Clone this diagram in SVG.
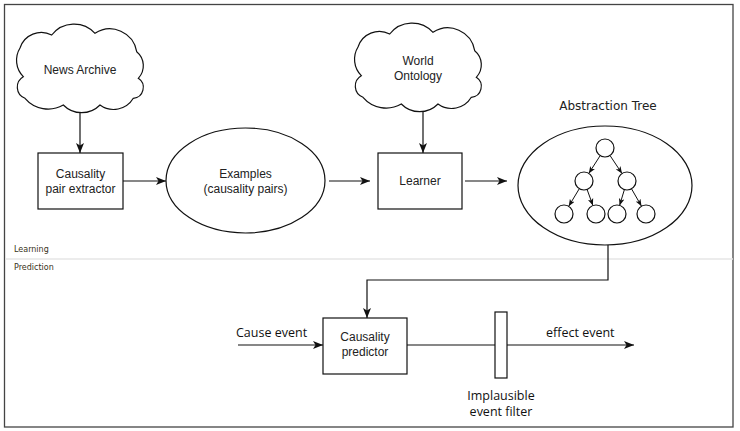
<svg xmlns="http://www.w3.org/2000/svg" width="740" height="431" viewBox="0 0 740 431">
<style>
.s{fill:none;stroke:#111;stroke-width:1.2}
.n{fill:#fff;stroke:#111;stroke-width:1.2}
.t{font-family:"Liberation Sans",Arial,sans-serif;font-size:12px;fill:#222;text-anchor:middle}
.d{font-family:"DejaVu Sans",sans-serif;font-size:12px;fill:#222;text-anchor:middle}
.o{font-family:"Open Sans",sans-serif;font-size:12.5px;fill:#111}
.sm{font-family:"DejaVu Sans",sans-serif;font-size:8px;fill:#3a3320}
</style>
<defs>
<marker id="a" viewBox="0 0 10 8" refX="10" refY="4" markerWidth="10" markerHeight="8" markerUnits="userSpaceOnUse" orient="auto">
<path d="M0,0 L10,4 L0,8 L2.5,4 z" fill="#111"/>
</marker>
<marker id="b" viewBox="0 0 10 8" refX="10" refY="4" markerWidth="7" markerHeight="6" markerUnits="userSpaceOnUse" orient="auto">
<path d="M0,0 L10,4 L0,8 L2.5,4 z" fill="#111"/>
</marker>
<path id="cloud" d="M20,48 A22.4,22.4 0 0 1 51.7,35 A28.4,28.4 0 0 1 95,33.3 A27.2,27.2 0 0 1 136.7,51.7 A18.2,18.2 0 0 1 138.3,78.3 A10.9,10.9 0 0 1 133.3,98.3 A23,23 0 0 1 100,105 A25.7,25.7 0 0 1 63.3,105 A30.5,30.5 0 0 1 25,98.3 A12,12 0 0 1 23.3,76.7 A23.4,23.4 0 0 1 20,48 Z"/>
</defs>
<rect width="740" height="431" fill="#fff"/>
<rect x="4.5" y="4.5" width="728.5" height="422.5" fill="none" stroke="#444" stroke-width="1.3"/>
<line x1="5" y1="259" x2="733" y2="259" stroke="#e6e6e6" stroke-width="1.5"/>
<text class="sm" x="14" y="252">Learning</text>
<text class="sm" x="14" y="270">Prediction</text>

<g id="connectors">
<line class="s" x1="80" y1="100" x2="80" y2="153" marker-end="url(#a)"/>
<line class="s" x1="123" y1="181" x2="166" y2="181" marker-end="url(#a)"/>
<line class="s" x1="329" y1="181" x2="370" y2="181" marker-end="url(#a)"/>
<line class="s" x1="423" y1="100" x2="423" y2="153" marker-end="url(#a)"/>
<line class="s" x1="465" y1="181" x2="507" y2="181" marker-end="url(#a)"/>
<polyline class="s" points="608,245 608,280 367,280 367,318" marker-end="url(#a)"/>
<line class="s" x1="238" y1="345" x2="323" y2="345" marker-end="url(#a)"/>
<line class="s" x1="407" y1="345" x2="634" y2="345" marker-end="url(#a)"/>
</g>

<g id="news-archive">
<use href="#cloud" class="n"/>
<text class="t" x="80" y="74">News Archive</text>
</g>

<g id="pair-extractor">
<rect class="n" x="38" y="153" width="85" height="56"/>
<text class="t" x="80.5" y="178">Causality</text>
<text class="t" x="80.5" y="193">pair extractor</text>
</g>

<g id="examples">
<ellipse class="n" cx="245.5" cy="180.5" rx="79.5" ry="52.5"/>
<text class="t" x="245.5" y="178">Examples</text>
<text class="t" x="245.5" y="193">(causality pairs)</text>
</g>

<g id="world-ontology">
<use href="#cloud" class="n" transform="translate(338,-1)"/>
<text class="t" x="418" y="65">World</text>
<text class="t" x="418" y="80">Ontology</text>
</g>

<g id="learner">
<rect class="n" x="378" y="153" width="84" height="56"/>
<text class="t" x="420" y="185">Learner</text>
</g>

<g id="abstraction-tree">
<text class="d" x="608" y="110">Abstraction Tree</text>
<ellipse class="n" cx="605" cy="185.5" rx="87" ry="59.5"/>
<g class="n">
<circle cx="605" cy="148" r="9"/>
<circle cx="584" cy="181" r="9"/>
<circle cx="627" cy="181" r="9"/>
<circle cx="564" cy="214" r="9"/>
<circle cx="596" cy="214" r="9"/>
<circle cx="617" cy="214" r="9"/>
<circle cx="646" cy="214" r="9"/>
</g>
<g class="s" style="stroke-width:1">
<line x1="600.2" y1="155.6" x2="588.8" y2="173.4" marker-end="url(#b)"/>
<line x1="610" y1="155.5" x2="622" y2="173.5" marker-end="url(#b)"/>
<line x1="579.3" y1="188.7" x2="568.7" y2="206.3" marker-end="url(#b)"/>
<line x1="587.1" y1="189.5" x2="592.9" y2="205.5" marker-end="url(#b)"/>
<line x1="624.4" y1="189.6" x2="619.6" y2="205.4" marker-end="url(#b)"/>
<line x1="631.5" y1="188.8" x2="641.5" y2="206.2" marker-end="url(#b)"/>
</g>
</g>

<g id="causality-predictor">
<rect class="n" x="323" y="318" width="84" height="56"/>
<text class="t" x="365" y="341">Causality</text>
<text class="t" x="365" y="356">predictor</text>
</g>

<g id="event-filter">
<rect class="n" x="495" y="312" width="12" height="66"/>
<text class="o" x="501" y="400" text-anchor="middle">Implausible</text>
<text class="o" x="501" y="416" text-anchor="middle">event filter</text>
</g>

<text class="o" x="236" y="337">Cause event</text>
<text class="o" x="546" y="337">effect event</text>
</svg>
